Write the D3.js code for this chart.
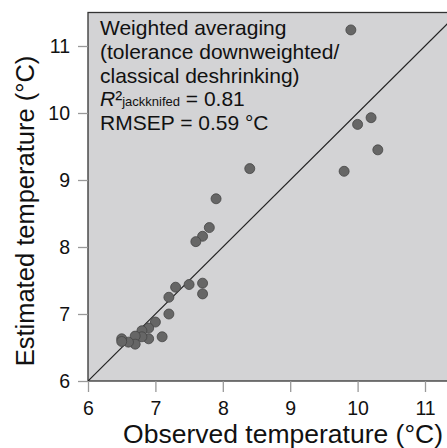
<!DOCTYPE html>
<html>
<head>
<meta charset="utf-8">
<script src="https://cdn.jsdelivr.net/npm/d3@7"></script>
<style>
  body { margin: 0; background: #fff; }
  svg { font-family: "Liberation Sans", Arial, sans-serif; }
</style>
</head>
<body>
<script>
// observed vs estimated temperature (deg C)
var observed  = [9.9, 10.0, 10.2, 10.3, 9.8, 8.4, 7.9, 7.8, 7.7, 7.6, 7.5, 7.7, 7.7, 7.3, 7.2, 7.2, 7.0, 7.1, 6.9, 6.9, 6.8, 6.8, 6.7, 6.7, 6.6, 6.5, 6.5];
var estimated = [11.24, 9.83, 9.93, 9.45, 9.13, 9.17, 8.72, 8.29, 8.16, 8.08, 7.44, 7.46, 7.30, 7.40, 7.25, 7.00, 6.88, 6.66, 6.79, 6.63, 6.75, 6.66, 6.67, 6.55, 6.58, 6.63, 6.59];
var ticks = [6, 7, 8, 9, 10, 11];
var legendLines = ["Weighted averaging", "(tolerance downweighted/", "classical deshrinking)"];
var rmsepText = "RMSEP = 0.59 \u00b0C";

window.onload = drawChart();

function drawChart(){
    var width = 447,
        height = 448;

    var svg = d3.select("body")
        .append("svg")
        .attr("width", width)
        .attr("height", height);

    // scales - plot area runs a bit past the right edge of the window
    var x = d3.scaleLinear().domain([6, 11.5]).range([88, 88 + 67.4 * 5.5]);
    var y = d3.scaleLinear().domain([6, 11.5]).range([381, 381 - 67 * 5.5]);

    svg.append("clipPath").attr("id", "clip")
        .append("rect")
        .attr("x", x(6)).attr("y", y(11.5))
        .attr("width", x(11.5) - x(6)).attr("height", y(6) - y(11.5));

    // grey panel
    svg.append("rect")
        .attr("x", x(6)).attr("y", y(11.5))
        .attr("width", x(11.5) - x(6)).attr("height", y(6) - y(11.5))
        .attr("fill", "#d3d3d5")
        .attr("stroke", "#333")
        .attr("stroke-width", 1.3);

    // axes, ticks point outwards in grey
    var xAxis = svg.append("g")
        .attr("transform", "translate(0," + y(6) + ")")
        .call(d3.axisBottom(x).tickValues(ticks).tickSize(11).tickPadding(9).tickFormat(d3.format("d")));
    var yAxis = svg.append("g")
        .attr("transform", "translate(" + x(6) + ",0)")
        .call(d3.axisLeft(y).tickValues(ticks).tickSize(10).tickPadding(8).tickFormat(d3.format("d")));

    [xAxis, yAxis].forEach(function(a){
        a.select(".domain").remove();
        a.selectAll(".tick line").attr("stroke", "#999").attr("stroke-width", 1.3);
        a.selectAll(".tick text")
            .attr("fill", "#111")
            .style("font-size", "19.5px")
            .style("font-family", "Liberation Sans, Arial, sans-serif");
    });

    // 1:1 line
    svg.append("line")
        .attr("clip-path", "url(#clip)")
        .attr("x1", x(6)).attr("y1", y(6))
        .attr("x2", x(11.5)).attr("y2", y(11.5))
        .attr("stroke", "#222")
        .attr("stroke-width", 1.2);

    // points
    svg.append("g").attr("clip-path", "url(#clip)")
        .selectAll("circle")
        .data(observed)
        .enter()
        .append("circle")
        .attr("cx", function(d){ return x(d); })
        .attr("cy", function(d, i){ return y(estimated[i]); })
        .attr("r", 5)
        .attr("fill", "#666")
        .attr("stroke", "#454545")
        .attr("stroke-width", 0.8);

    // text block inside the panel
    var txt = svg.append("g").attr("fill", "#111").style("font-size", "21px");
    legendLines.forEach(function(s, i){
        txt.append("text").attr("x", 100).attr("y", 35 + i * 23.8).text(s);
    });
    var r2 = txt.append("text").attr("x", 100).attr("y", 35 + 3 * 23.8);
    r2.append("tspan").style("font-style", "italic").text("R");
    r2.append("tspan").text("\u00b2");
    r2.append("tspan").style("font-size", "13px").text("jackknifed");
    r2.append("tspan").text(" = 0.81");
    txt.append("text").attr("x", 100).attr("y", 35 + 4 * 23.8).text(rmsepText);

    // axis titles
    svg.append("text")
        .attr("x", 443).attr("y", 443)
        .attr("text-anchor", "end")
        .style("font-size", "26.5px")
        .attr("fill", "#111")
        .text("Observed temperature (\u00b0C)");

    svg.append("text")
        .attr("transform", "translate(34," + 211 + ") rotate(-90)")
        .attr("text-anchor", "middle")
        .style("font-size", "25.5px")
        .attr("fill", "#111")
        .text("Estimated temperature (\u00b0C)");
}
</script>
</body>
</html>
